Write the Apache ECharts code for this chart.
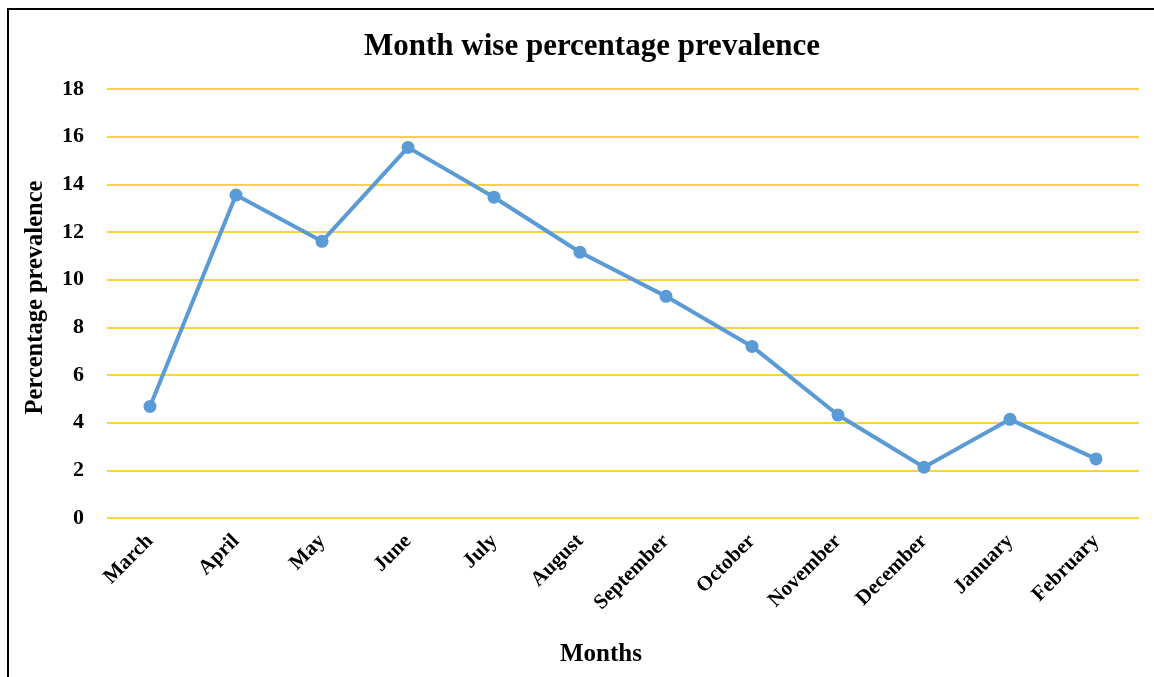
<!DOCTYPE html>
<html>
<head>
<meta charset="utf-8">
<title>Month wise percentage prevalence</title>
<script src="https://cdn.jsdelivr.net/npm/echarts@6/dist/echarts.min.js"></script>
<style>
  html, body { margin: 0; padding: 0; background: #ffffff; }
  #chart { width: 1154px; height: 677px; }
</style>
</head>
<body>
<div id="chart"></div>
<script>
// Monthly prevalence (%) over one year, March to February
const months = ['March', 'April', 'May', 'June', 'July', 'August', 'September',
                'October', 'November', 'December', 'January', 'February'];
const prevalence = [4.68, 13.55, 11.61, 15.55, 13.46, 11.15, 9.3, 7.2, 4.32, 2.13, 4.14, 2.48];
const yTicks = { min: 0, max: 18, interval: 2 };

const serif = '"Liberation Serif", "Times New Roman", "DejaVu Serif", serif';

const chart = echarts.init(document.getElementById('chart'), null, { renderer: 'canvas' });

chart.setOption({
  animation: false,
  backgroundColor: '#ffffff',
  graphic: [{
    type: 'rect',
    shape: { x: 8, y: 9, width: 1170, height: 700 },
    style: { fill: 'none', stroke: '#000000', lineWidth: 2 },
    silent: true
  }],
  title: {
    text: 'Month wise percentage prevalence',
    left: 359,
    top: 26,
    textStyle: { fontFamily: serif, fontSize: 31, fontWeight: 'bold', color: '#000000' }
  },
  grid: { left: 107, right: 15, top: 89, bottom: 159 },
  xAxis: {
    type: 'category',
    data: months,
    boundaryGap: true,
    name: 'Months',
    nameLocation: 'middle',
    nameGap: 124,
    nameTextStyle: {
      fontFamily: serif, fontSize: 25, fontWeight: 'bold', color: '#000000',
      padding: [0, 44, 0, 0]
    },
    axisLine: { show: false },
    axisTick: { show: false },
    axisLabel: {
      rotate: 45,
      margin: 20,
      fontFamily: serif,
      fontSize: 21,
      fontWeight: 'bold',
      color: '#000000',
      interval: 0
    }
  },
  yAxis: {
    type: 'value',
    min: yTicks.min,
    max: yTicks.max,
    interval: yTicks.interval,
    name: 'Percentage prevalence',
    nameLocation: 'middle',
    nameGap: 59,
    nameTextStyle: {
      fontFamily: serif, fontSize: 24.5, fontWeight: 'bold', color: '#000000',
      padding: [0, 0, 0, 12]
    },
    axisLine: { show: false },
    axisTick: { show: false },
    axisLabel: {
      margin: 23,
      fontFamily: serif,
      fontSize: 22,
      fontWeight: 'bold',
      color: '#000000'
    },
    splitLine: { lineStyle: { color: '#ffc000', width: 1.5 } }
  },
  series: [{
    type: 'line',
    data: prevalence,
    symbol: 'circle',
    symbolSize: 13,
    lineStyle: { color: '#5b9bd5', width: 4 },
    itemStyle: { color: '#5b9bd5' }
  }]
});
</script>
</body>
</html>
